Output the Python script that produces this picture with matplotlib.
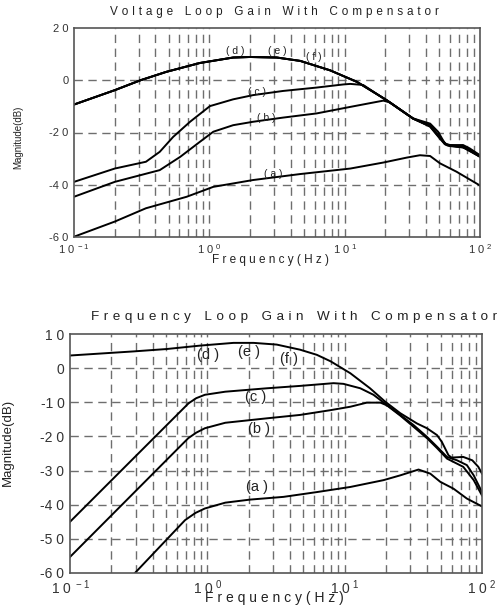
import matplotlib
matplotlib.use('Agg')
import matplotlib.pyplot as plt
from matplotlib.ticker import FixedLocator, NullFormatter

plt.rcParams['font.family'] = ['Liberation Sans', 'DejaVu Sans']
plt.rcParams['mathtext.default'] = 'regular'

# ---- Voltage loop gain (top panel) ----
# curves (d), (e), (f) lie on top of each other except above ~40 Hz
v_freq_def = [0.1, 0.2, 0.31, 0.48, 0.85, 1.5, 2.0, 3.15, 4.7, 7.8, 12.3,
              20.4, 32, 42.8, 49, 55, 60, 75, 84, 100]
v_mag_d = [-9.3, -3.8, 0, 3.2, 6.6, 8.7, 8.9, 8.7, 7.4, 3.8, -0.6,
           -7.6, -14.6, -16.6, -19.7, -24.2, -24.8, -24.8, -26.1, -28.7]
v_mag_e = [-9.3, -3.8, 0, 3.2, 6.6, 8.7, 8.9, 8.7, 7.4, 3.8, -0.6,
           -7.6, -14.6, -17.8, -21.5, -24.5, -25.2, -25.7, -26.8, -29.3]
v_mag_f = [-9.3, -3.8, 0, 3.2, 6.6, 8.7, 8.9, 8.7, 7.4, 3.8, -0.6,
           -7.6, -14.6, -17.2, -20.8, -24.4, -25.0, -25.3, -26.5, -29.0]

v_freq_c = [0.1, 0.2, 0.34, 0.43, 0.54, 0.72, 1.01, 1.5, 2.1, 3.5, 6.2,
            9.8, 11.0, 13.7, 20.4, 32, 42.8, 50.6, 57, 75, 100]
v_mag_c = [-38.9, -33.8, -31.2, -27.4, -21.7, -15.9, -9.9, -7.3, -5.7, -4.1, -2.8,
           -1.6, -1.4, -1.8, -7.7, -14.7, -17.5, -22.0, -24.8, -25.6, -29.2]

v_freq_b = [0.1, 0.2, 0.43, 0.61, 0.85, 1.07, 1.5, 2.1, 3.5, 6.2, 11.0,
            19.3, 21.6, 32, 42.8, 50.6, 57, 75, 100]
v_mag_b = [-44.6, -38.9, -34.4, -29.3, -23.6, -19.7, -17.2, -15.9, -14.3, -12.7, -10.2,
           -7.8, -8.5, -14.7, -17.6, -22.2, -24.9, -25.7, -29.3]

v_freq_a = [0.1, 0.2, 0.34, 0.68, 1.07, 1.5, 2.1, 4.7, 11.0, 19.3, 28.8,
            36, 42.8, 50.6, 67, 100]
v_mag_a = [-59.9, -54.1, -49.0, -44.6, -40.8, -39.5, -38.2, -35.9, -33.8, -31.5, -29.6,
           -28.7, -29.0, -31.8, -35.0, -40.3]

v_labels = ['( d )', '( e )', '( f )', '( c )', '( b )', '( a )']
v_label_f = [1.55, 3.18, 5.9, 2.24, 2.65, 2.97]
v_label_db = [11.2, 11.2, 8.9, -4.5, -14.6, -35.7]

# ---- Frequency loop gain (bottom panel) ----
f_freq_def = [0.1, 0.29, 0.506, 0.885, 1.55, 2.17, 3.2, 4.74, 6.27, 7.9, 11.0,
              15.3, 19.7, 25.4, 33.6, 39.7, 47, 51, 57, 60, 73, 85, 94, 100]
f_mag_def = [3.7, 4.9, 5.6, 6.6, 7.4, 7.4, 6.9, 5.4, 3.9, 2.0, -1.5,
             -5.9, -9.8, -13.2, -16.2, -17.6, -19.6, -21.6, -25.5, -26.2, -26.0, -27.0, -28.9, -30.9]

f_freq_c = [0.1, 0.73, 0.83, 0.96, 1.35, 2.71, 4.74, 8.3, 9.8,
            13, 16.2, 20.3, 25.4, 31.8, 39.7, 47, 55.6, 65.8, 77.6, 87, 100]
f_mag_c = [-45.0, -10.3, -8.8, -7.8, -6.9, -5.9, -5.2, -4.4, -4.6,
           -5.9, -7.8, -10.8, -13.7, -16.7, -20.1, -23.0, -26.0, -27.0, -28.4, -31.4, -36.3]

f_freq_b = [0.1, 0.727, 0.83, 0.96, 1.35, 2.71, 4.74, 7.9, 11.0,
            14.5, 18.2, 20.3, 25.4, 31.8, 39.7, 47, 55.6, 73, 87, 100]
f_mag_b = [-55.3, -20.5, -18.9, -17.6, -16.0, -14.7, -13.7, -12.3, -11.3,
           -10.1, -10.1, -10.9, -13.9, -17.2, -20.5, -23.4, -26.5, -28.9, -32.8, -37.3]

f_freq_a = [0.297, 0.689, 0.82, 0.96, 1.35, 2.05, 3.59, 6.27, 11.0, 19.2, 25.4,
            34.5, 42, 49.7, 62, 77.6, 100]
f_mag_a = [-60.0, -44.5, -42.4, -41.1, -39.4, -38.5, -37.7, -36.3, -34.8, -32.8, -31.4,
           -29.7, -30.9, -33.3, -35.3, -38.2, -40.5]

f_labels = ['(d )', '(e )', '(f )', '(c )', '(b )', '(a )']
f_label_f = [1.02, 2.0, 3.9, 2.23, 2.36, 2.29]
f_label_db = [3.9, 4.6, 2.6, -8.5, -17.9, -34.8]

x_major = [0.1, 1, 10, 100]
x_ticklabels = [r'1 0$^{\ -1}$', r'1 0$^{\ 0}$', r'1 0$^{\ 1}$', r'1 0$^{\ 2}$']
x_minor = [k * d for d in (0.1, 1, 10) for k in range(2, 10)] + [1, 10]

v_yticks = [20, 0, -20, -40, -60]
v_yticklabels = ['2 0', '0', '-2 0', '-4 0', '-6 0']
f_yticks = [10, 0, -10, -20, -30, -40, -50, -60]
f_yticklabels = ['1 0', '0', '-1 0', '-2 0', '-3 0', '-4 0', '-5 0', '-6 0']

W, H = 497, 612
grid_col = '#6e6e6e'
dash = (0, (6, 4))
lw = 1.4


def spaced(s):
    # old-style letter spaced caption text
    gap = '\u2004'
    return (gap * 3).join(gap.join(word) for word in s.split())


def style_axes(ax, yticks, yticklabels, fs):
    ax.set_xscale('log')
    ax.set_xlim(0.1, 100)
    ax.set_ylim(min(yticks), max(yticks))
    ax.xaxis.set_major_locator(FixedLocator(x_major))
    ax.xaxis.set_minor_locator(FixedLocator(x_minor))
    ax.xaxis.set_minor_formatter(NullFormatter())
    ax.set_xticklabels(x_ticklabels, fontsize=fs)
    ax.set_yticks(yticks)
    ax.set_yticklabels(yticklabels, fontsize=fs, color='#333333')
    for lab in ax.get_xticklabels():
        lab.set_color('#333333')
    ax.tick_params(which='both', length=0, pad=4)
    for x in x_minor:
        ax.axvline(x, color=grid_col, lw=1.0, ls=dash, zorder=1)
    for y in yticks[1:-1]:
        ax.axhline(y, color=grid_col, lw=1.0, ls=dash, zorder=1)
    for sp in ax.spines.values():
        sp.set_color('#555555')
        sp.set_linewidth(1.2)


fig = plt.figure(figsize=(W / 100, H / 100), dpi=100)

# top panel
ax1 = fig.add_axes([74 / W, 1 - 237 / H, 406 / W, 209 / H])
style_axes(ax1, v_yticks, v_yticklabels, 8)
ax1.plot(v_freq_def, v_mag_d, color='k', lw=lw)
ax1.plot(v_freq_def, v_mag_e, color='k', lw=lw)
ax1.plot(v_freq_def, v_mag_f, color='k', lw=lw)
ax1.plot(v_freq_c, v_mag_c, color='k', lw=lw)
ax1.plot(v_freq_b, v_mag_b, color='k', lw=lw)
ax1.plot(v_freq_a, v_mag_a, color='k', lw=lw)
for t, xf, yd in zip(v_labels, v_label_f, v_label_db):
    ax1.text(xf, yd, t, fontsize=7.5, ha='center', va='center', color='#222222')
fig.text(274 / W, 1 - 12 / H, spaced('Voltage Loop Gain With Compensator'),
         fontsize=8.5, ha='center', va='center', color='#222222')
fig.text(270 / W, 1 - 260 / H, 'F r e q u e n c y ( H z )',
         fontsize=8.5, ha='center', va='center', color='#222222')
fig.text(18 / W, 1 - 137 / H, 'Magnitude(dB)', rotation=90,
         fontsize=7, ha='center', va='center', color='#222222')

# bottom panel
ax2 = fig.add_axes([70 / W, 1 - 573 / H, 412 / W, 239 / H])
style_axes(ax2, f_yticks, f_yticklabels, 10)
ax2.plot(f_freq_def, f_mag_def, color='k', lw=lw)
ax2.plot(f_freq_c, f_mag_c, color='k', lw=lw)
ax2.plot(f_freq_b, f_mag_b, color='k', lw=lw)
ax2.plot(f_freq_a, f_mag_a, color='k', lw=lw)
for t, xf, yd in zip(f_labels, f_label_f, f_label_db):
    ax2.text(xf, yd, t, fontsize=10.5, ha='center', va='center', color='#222222')
fig.text(294 / W, 1 - 317 / H, spaced('Frequency Loop Gain With Compensator'),
         fontsize=9.7, ha='center', va='center', color='#222222')
fig.text(274 / W, 1 - 598 / H, 'F r e q u e n c y ( H z )',
         fontsize=10, ha='center', va='center', color='#222222')
fig.text(8 / W, 1 - 442 / H, 'Magnitude(dB)', rotation=90,
         fontsize=9.5, ha='center', va='center', color='#222222')

fig.savefig('out.png', dpi=100)
